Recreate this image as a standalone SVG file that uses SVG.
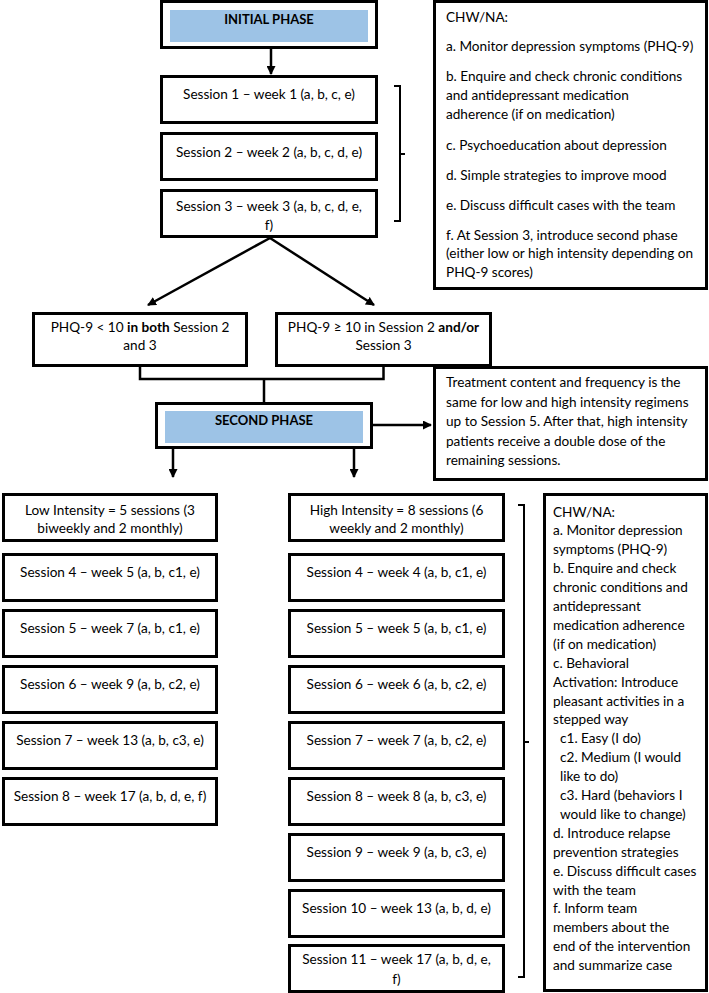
<svg xmlns="http://www.w3.org/2000/svg" width="709" height="993" viewBox="0 0 709 993">
<style>
text{font-family:Lato,"Liberation Sans",sans-serif;font-size:13.6px;fill:#000}
.c{text-anchor:middle}
.b{font-weight:bold}
.t{font-size:13px}
.box{fill:#fff;stroke:#000;stroke-width:3}
.blue{fill:#9dc3e6}
.ln{fill:none;stroke:#000;stroke-width:2.5}
.br{fill:none;stroke:#000;stroke-width:2}
</style>
<defs>
<marker id="ah" markerUnits="userSpaceOnUse" markerWidth="9" markerHeight="9" refX="8" refY="4.5" orient="auto"><path d="M0,0 L9,4.5 L0,9 z" fill="#000"/></marker>
</defs>
<rect width="709" height="993" fill="#fff"/>
<g id="connectors">
<path class="ln" d="M271,49 V74" marker-end="url(#ah)"/>
<path class="ln" d="M270,238 L148,305" marker-end="url(#ah)"/>
<path class="ln" d="M270,238 L374,305" marker-end="url(#ah)"/>
<path class="ln" d="M140,367 V379 H383.5 V367 M264,379 V402"/>
<path class="ln" d="M173,449 V477" marker-end="url(#ah)"/>
<path class="ln" d="M354,449 V477" marker-end="url(#ah)"/>
<path class="ln" d="M373,425 H431" marker-end="url(#ah)"/>
<path class="br" d="M394,86 H400 V221 H394 M400,154 H405"/>
<path class="br" d="M518,505 H524 V977 H518 M524,742 H529"/>
</g>
<g id="initial"><rect class="box" x="161.5" y="1.5" width="215" height="46"/><rect class="blue" x="170" y="10" width="198" height="32"/><text class="c b t" x="269" y="23.5">INITIAL PHASE</text></g>
<g id="s1"><rect class="box" x="161.5" y="76.5" width="215" height="46"/><text class="c" x="269" y="98.5">Session 1 – week 1 (a, b, c, e)</text></g>
<g id="s2"><rect class="box" x="161.5" y="133.5" width="215" height="46"/><text class="c" x="269" y="156.5">Session 2 – week 2 (a, b, c, d, e)</text></g>
<g id="s3"><rect class="box" x="161.5" y="190.5" width="215" height="46"/><text class="c" x="269" y="210.5">Session 3 – week 3 (a, b, c, d, e,</text><text class="c" x="269" y="229.5">f)</text></g>
<g id="chw1"><rect class="box" x="434.5" y="1.5" width="272" height="287"/>
<text x="446" y="21.5">CHW/NA:</text>
<text x="446" y="50.5">a. Monitor depression symptoms (PHQ-9)</text>
<text x="446" y="80.5">b. Enquire and check chronic conditions</text>
<text x="446" y="99.5">and antidepressant medication</text>
<text x="446" y="118.5">adherence (if on medication)</text>
<text x="446" y="149.5">c. Psychoeducation about depression</text>
<text x="446" y="179.5">d. Simple strategies to improve mood</text>
<text x="446" y="209.5">e. Discuss difficult cases with the team</text>
<text x="446" y="239.5">f. At Session 3, introduce second phase</text>
<text x="446" y="258">(either low or high intensity depending on</text>
<text x="446" y="276.5">PHQ-9 scores)</text>
</g>
<g id="phq-low"><rect class="box" x="33.5" y="313.5" width="213" height="52"/><text class="c" x="140" y="331.5">PHQ-9 &lt; 10 <tspan class="b">in both</tspan> Session 2</text><text class="c" x="140" y="349.5">and 3</text></g>
<g id="phq-high"><rect class="box" x="276.5" y="313.5" width="214" height="52"/><text class="c" x="383.5" y="331.5">PHQ-9 ≥ 10 in Session 2 <tspan class="b">and/or</tspan></text><text class="c" x="383.5" y="349.5">Session 3</text></g>
<g id="second"><rect class="box" x="156.5" y="403.5" width="215" height="44"/><rect class="blue" x="165" y="411" width="198" height="32"/><text class="c b t" x="264" y="424.5">SECOND PHASE</text></g>
<g id="treatment"><rect class="box" x="434.5" y="367.5" width="272" height="112"/>
<text x="446" y="387">Treatment content and frequency is the</text>
<text x="446" y="406.5">same for low and high intensity regimens</text>
<text x="446" y="426">up to Session 5. After that, high intensity</text>
<text x="446" y="445.5">patients receive a double dose of the</text>
<text x="446" y="465">remaining sessions.</text>
</g>
<g id="low"><rect class="box" x="3.5" y="494.5" width="213" height="46"/><text class="c" x="110" y="514.5">Low Intensity = 5 sessions (3</text><text class="c" x="110" y="532.5">biweekly and 2 monthly)</text></g>
<g id="l4"><rect class="box" x="3.5" y="554.5" width="213" height="46"/><text class="c" x="110" y="576.5">Session 4 – week 5 (a, b, c1, e)</text></g>
<g id="l5"><rect class="box" x="3.5" y="610.5" width="213" height="46"/><text class="c" x="110" y="632.5">Session 5 – week 7 (a, b, c1, e)</text></g>
<g id="l6"><rect class="box" x="3.5" y="666.5" width="213" height="46"/><text class="c" x="110" y="688.5">Session 6 – week 9 (a, b, c2, e)</text></g>
<g id="l7"><rect class="box" x="3.5" y="722.5" width="213" height="46"/><text class="c" x="110" y="744.5">Session 7 – week 13 (a, b, c3, e)</text></g>
<g id="l8"><rect class="box" x="3.5" y="778.5" width="213" height="46"/><text class="c" x="110" y="800.5">Session 8 – week 17 (a, b, d, e, f)</text></g>
<g id="high"><rect class="box" x="289.5" y="494.5" width="214" height="46"/><text class="c" x="396.5" y="514.5">High Intensity = 8 sessions (6</text><text class="c" x="396.5" y="532.5">weekly and 2 monthly)</text></g>
<g id="h4"><rect class="box" x="289.5" y="554.5" width="214" height="46"/><text class="c" x="396.5" y="576.5">Session 4 – week 4 (a, b, c1, e)</text></g>
<g id="h5"><rect class="box" x="289.5" y="610.5" width="214" height="46"/><text class="c" x="396.5" y="632.5">Session 5 – week 5 (a, b, c1, e)</text></g>
<g id="h6"><rect class="box" x="289.5" y="666.5" width="214" height="46"/><text class="c" x="396.5" y="688.5">Session 6 – week 6 (a, b, c2, e)</text></g>
<g id="h7"><rect class="box" x="289.5" y="722.5" width="214" height="46"/><text class="c" x="396.5" y="744.5">Session 7 – week 7 (a, b, c2, e)</text></g>
<g id="h8"><rect class="box" x="289.5" y="778.5" width="214" height="46"/><text class="c" x="396.5" y="800.5">Session 8 – week 8 (a, b, c3, e)</text></g>
<g id="h9"><rect class="box" x="289.5" y="834.5" width="214" height="46"/><text class="c" x="396.5" y="856.5">Session 9 – week 9 (a, b, c3, e)</text></g>
<g id="h10"><rect class="box" x="289.5" y="890.5" width="214" height="46"/><text class="c" x="396.5" y="912.5">Session 10 – week 13 (a, b, d, e)</text></g>
<g id="h11"><rect class="box" x="289.5" y="945.5" width="214" height="46"/><text class="c" x="396.5" y="963.5">Session 11 – week 17 (a, b, d, e,</text><text class="c" x="396.5" y="983.5">f)</text></g>
<g id="chw2"><rect class="box" x="544.5" y="494.5" width="162" height="496"/>
<text x="553" y="516.5">CHW/NA:</text>
<text x="553" y="535.4">a. Monitor depression</text>
<text x="553" y="554.3">symptoms (PHQ-9)</text>
<text x="553" y="573.2">b. Enquire and check</text>
<text x="553" y="592.1">chronic conditions and</text>
<text x="553" y="611">antidepressant</text>
<text x="553" y="629.9">medication adherence</text>
<text x="553" y="648.8">(if on medication)</text>
<text x="553" y="667.7">c. Behavioral</text>
<text x="553" y="686.6">Activation: Introduce</text>
<text x="553" y="705.5">pleasant activities in a</text>
<text x="553" y="724.4">stepped way</text>
<text x="560" y="743.3">c1. Easy (I do)</text>
<text x="560" y="762.2">c2. Medium (I would</text>
<text x="560" y="781.1">like to do)</text>
<text x="560" y="800">c3. Hard (behaviors I</text>
<text x="560" y="818.9">would like to change)</text>
<text x="553" y="837.8">d. Introduce relapse</text>
<text x="553" y="856.7">prevention strategies</text>
<text x="553" y="875.6">e. Discuss difficult cases</text>
<text x="553" y="894.5">with the team</text>
<text x="553" y="913.4">f. Inform team</text>
<text x="553" y="932.3">members about the</text>
<text x="553" y="951.2">end of the intervention</text>
<text x="553" y="970.1">and summarize case</text>
</g>
</svg>
